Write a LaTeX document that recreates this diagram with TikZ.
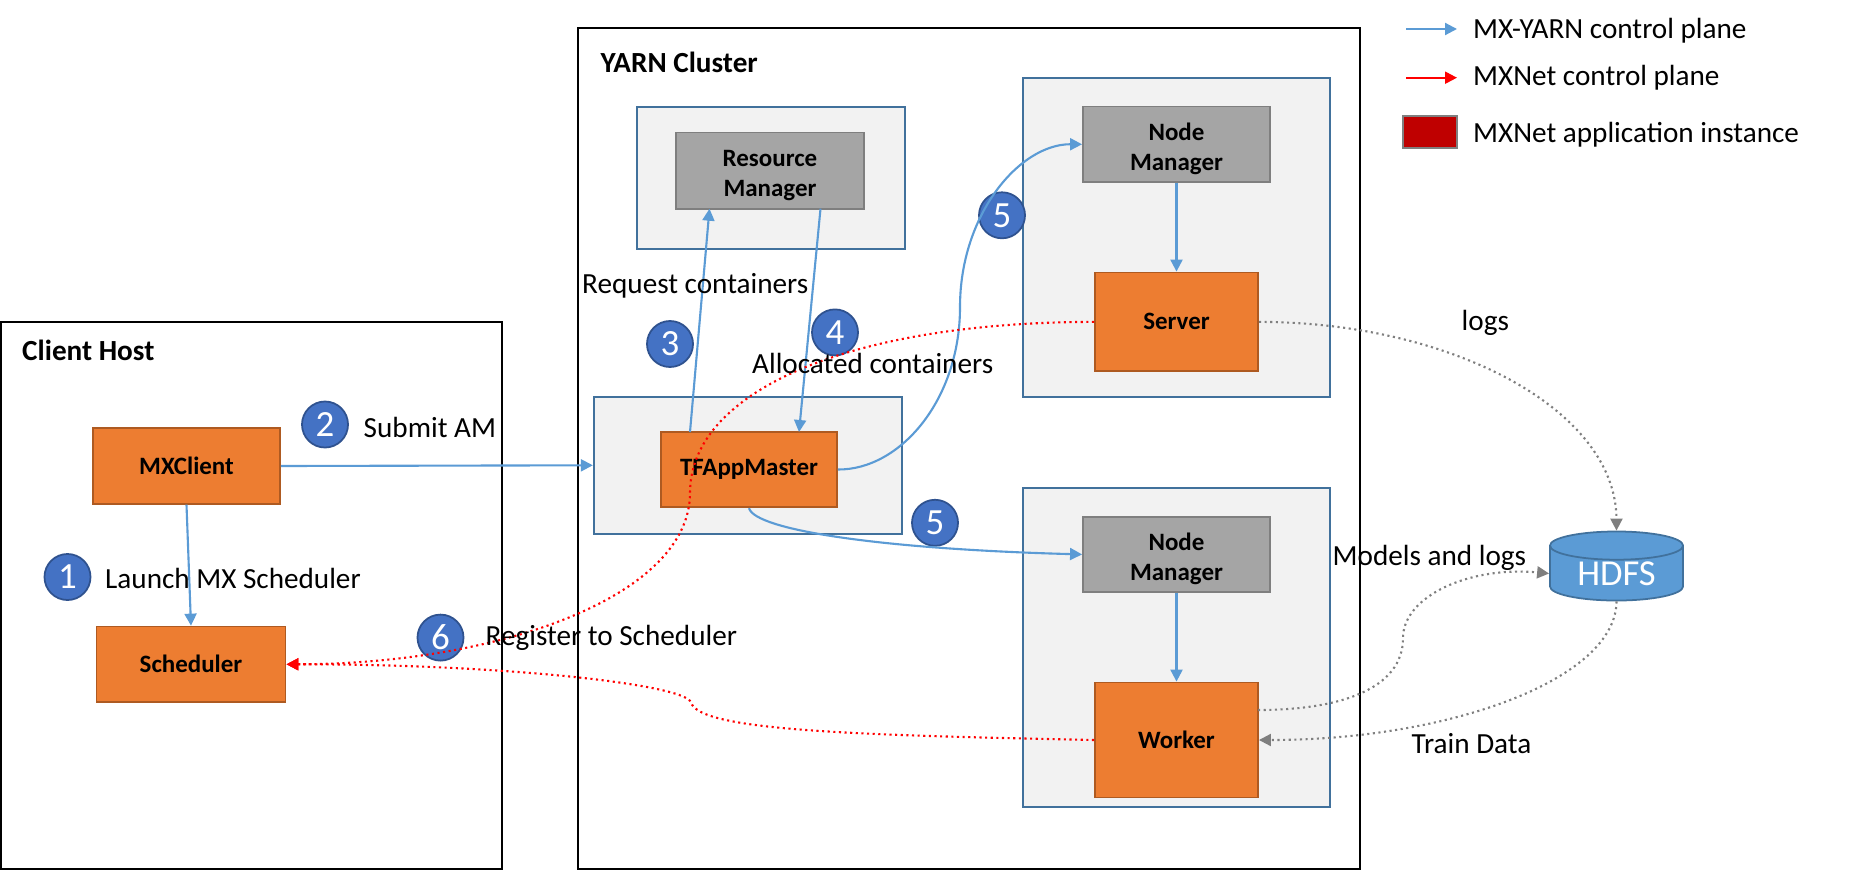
\documentclass[tikz,border=0pt]{standalone}
\usepackage{fontspec}
\setmainfont{Carlito}
\usepackage{tikz}
\usetikzlibrary{arrows.meta, shapes.geometric}

\definecolor{yarnblue}{HTML}{5B9BD5}
\definecolor{framblue}{HTML}{41719C}
\definecolor{paneback}{HTML}{F2F2F2}
\definecolor{apporange}{HTML}{ED7D31}
\definecolor{appedge}{HTML}{AE5A21}
\definecolor{mgrgray}{HTML}{A5A5A5}
\definecolor{mgredge}{HTML}{7F7F7F}
\definecolor{badgeblue}{HTML}{4472C4}
\definecolor{badgeedge}{HTML}{2F528F}
\definecolor{logline}{HTML}{7F7F7F}

\newcommand{\mgrtop}{\rule{0pt}{7.6pt}}

\tikzset{
    frame/.style={draw=black, line width=0.6pt, fill=white},
    pane/.style={draw=framblue, line width=0.6pt, fill=paneback},
    appbox/.style={draw=appedge, line width=0.5pt, fill=apporange, font=\fontsize{7.1}{8.5}\selectfont\bfseries, align=center, inner sep=0pt},
    mgrbox/.style={draw=mgredge, line width=0.5pt, fill=mgrgray, font=\fontsize{7.1}{8.5}\selectfont\bfseries, align=center, inner sep=0pt},
    badge/.style={circle, draw=badgeedge, line width=0.5pt, fill=badgeblue, text=white, minimum size=0.46cm, inner sep=0pt, font=\fontsize{10.5}{12}\selectfont},
    lbl/.style={anchor=base west, inner sep=0pt, font=\fontsize{8.3}{10}\selectfont},
    title/.style={anchor=base west, inner sep=0pt, font=\fontsize{8.3}{10}\selectfont\bfseries},
    yarnline/.style={draw=yarnblue, line width=0.6pt, -{Triangle[length=0.12cm,width=0.12cm]}},
    mxline/.style={draw=red, line width=0.6pt, densely dotted, -{Triangle[length=0.12cm,width=0.12cm]}},
    dataline/.style={draw=logline, line width=0.6pt, densely dotted, -{Triangle[length=0.12cm,width=0.12cm]}}
}

\begin{document}
\begin{tikzpicture}[x=0.01cm, y=-0.01cm]
    \useasboundingbox (0,0) rectangle (1870,870);

    % Client host
    \node[frame, minimum width=5.01cm, minimum height=5.47cm] (clienthost) at (251.5,595.5) {};
    \node[appbox, minimum width=1.87cm, minimum height=0.755cm] (mxclient) at (186.5,466) {MXClient};
    \node[appbox, minimum width=1.89cm, minimum height=0.755cm] (scheduler) at (191,664.3) {Scheduler};

    % YARN cluster
    \node[frame, minimum width=7.82cm, minimum height=8.41cm] (cluster) at (969,448.5) {};
    \node[pane, minimum width=2.67cm, minimum height=1.425cm] (rmpane) at (771,178) {};
    \node[mgrbox, minimum width=1.875cm, minimum height=0.76cm] (resmgr) at (770,170.6) {\mgrtop Resource\\Manager};
    \node[pane, minimum width=3.08cm, minimum height=1.37cm] (ampane) at (748,465.3) {};
    \node[appbox, minimum width=1.76cm, minimum height=0.755cm] (appmaster) at (749,469.5) {TFAppMaster};
    \node[pane, minimum width=3.065cm, minimum height=3.196cm] (serverpane) at (1176.5,237.5) {};
    \node[mgrbox, minimum width=1.87cm, minimum height=0.755cm] (nmserver) at (1176.5,144.3) {\mgrtop Node\\Manager};
    \node[appbox, minimum width=1.63cm, minimum height=0.988cm] (server) at (1176.5,321.9) {Server};
    \node[pane, minimum width=3.065cm, minimum height=3.19cm] (workerpane) at (1176.5,647.3) {};
    \node[mgrbox, minimum width=1.87cm, minimum height=0.755cm] (nmworker) at (1176.5,554.4) {\mgrtop Node\\Manager};
    \node[appbox, minimum width=1.63cm, minimum height=1.15cm] (worker) at (1176.5,740) {Worker};

    % HDFS
    \node[cylinder, shape border rotate=90, aspect=0.36, draw=framblue, line width=0.5pt, cylinder uses custom fill, cylinder body fill=yarnblue, cylinder end fill=yarnblue, text=white, minimum width=1.33cm, minimum height=0.69cm, inner sep=0pt, font=\fontsize{10.4}{12}\selectfont] (hdfs) at (1616.5,573.5) {HDFS};

    % Numbered steps
    \node[badge] (stepa) at (67.5,577) {1};
    \node[badge] (stepb) at (325,424.5) {2};
    \node[badge] (stepc) at (670,344) {3};
    \node[badge] (stepd) at (835,332.4) {4};
    \node[badge] (stepeu) at (1002,215.3) {5};
    \node[badge] (stepel) at (935,522.8) {5};
    \node[badge] (stepf) at (440.5,637.6) {6};

    % Free ends
    \coordinate (reqfrom) at (690,432);
    \coordinate (reqto) at (709.5,208.7);
    \coordinate (allocfrom) at (820.5,208.7);
    \coordinate (allocto) at (799,432);
    \coordinate (workerout) at (1258,710);
    \coordinate (legyarna) at (1406,29);
    \coordinate (legyarnb) at (1457,29);
    \coordinate (legmxa) at (1406,77.7);
    \coordinate (legmxb) at (1457,77.7);

    % YARN control plane
    \draw[yarnline] (mxclient.south) -- (scheduler.north);
    \draw[yarnline] (mxclient.east) -- (ampane.west);
    \draw[yarnline] (reqfrom) -- (reqto);
    \draw[yarnline] (allocfrom) -- (allocto);
    \draw[yarnline] (appmaster.east) .. controls (900,470) and (960,400) .. (960,307) .. controls (960,214) and (1020,144) .. (nmserver.west);
    \draw[yarnline] (appmaster.south) .. controls (755,530) and (880,549) .. (nmworker.west);
    \draw[yarnline] (nmserver.south) -- (server.north);
    \draw[yarnline] (nmworker.south) -- (worker.north);

    % MXNet control plane
    \draw[mxline] (server.west) .. controls (850,322) and (690,391) .. (690,493) .. controls (690,596) and (500,664) .. (scheduler.east);
    \draw[mxline] (worker.west) .. controls (850,735) and (700,730.5) .. (691,702.5) .. controls (685,684) and (500,664) .. (scheduler.east);

    % Data
    \draw[dataline] (server.east) .. controls (1450,322) and (1616,409) .. (hdfs.north);
    \draw[dataline] (workerout) .. controls (1340,710) and (1403,689) .. (1403,638) .. controls (1403,596) and (1470,566) .. (hdfs.west);
    \draw[dataline] (hdfs.south) .. controls (1616,679) and (1450,740) .. (worker.east);

    % Labels
    \node[title] (clientname) at (21.5,360) {Client Host};
    \node[title] (clustername) at (600,72.5) {YARN Cluster};
    \node[lbl] (launchtxt) at (104.5,588.5) {Launch MX Scheduler};
    \node[lbl] (submittxt) at (363,437) {Submit AM};
    \node[lbl] (requesttxt) at (581.5,293) {Request containers};
    \node[lbl] (alloctxt) at (751.5,373.5) {Allocated containers};
    \node[lbl] (registertxt) at (485,645.5) {Register to Scheduler};
    \node[lbl] (logstxt) at (1461,330.5) {logs};
    \node[lbl] (modelstxt) at (1332,565) {Models and logs};
    \node[lbl] (traintxt) at (1411,753.5) {Train Data};

    % Legend
    \draw[yarnline] (legyarna) -- (legyarnb);
    \draw[draw=red, line width=0.6pt, -{Triangle[length=0.12cm,width=0.12cm]}] (legmxa) -- (legmxb);
    \node[draw=mgredge, line width=0.6pt, fill=red!75!black, minimum width=0.54cm, minimum height=0.32cm, inner sep=0pt] (legbox) at (1430,132) {};
    \node[lbl] (legyarntxt) at (1472.5,39) {MX-YARN control plane};
    \node[lbl] (legmxtxt) at (1472.5,85.5) {MXNet control plane};
    \node[lbl] (legboxtxt) at (1472.5,143) {MXNet application instance};
\end{tikzpicture}
\end{document}
